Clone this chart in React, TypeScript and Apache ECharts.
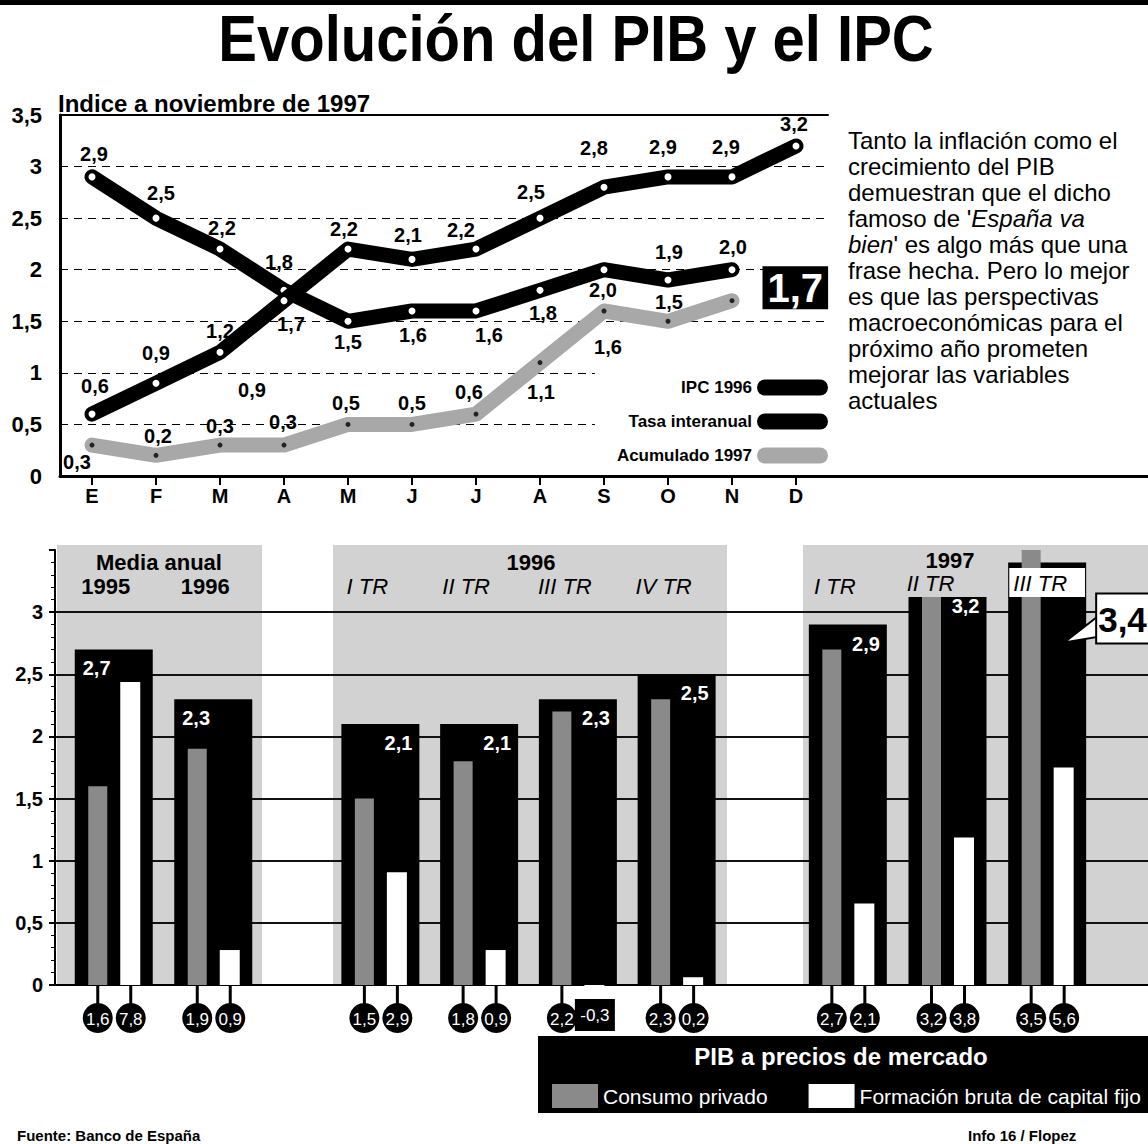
import React, { useEffect, useRef } from 'react';
import * as echarts from 'echarts';

const FONT = "'Liberation Sans', Arial, Helvetica, sans-serif";

// ---------- Top chart data ----------
const months = ['E', 'F', 'M', 'A', 'M', 'J', 'J', 'A', 'S', 'O', 'N', 'D'];
const ipc1996 = [0.6, 0.9, 1.2, 1.7, 2.2, 2.1, 2.2, 2.5, 2.8, 2.9, 2.9, 3.2];
const tasaInteranual = [2.9, 2.5, 2.2, 1.8, 1.5, 1.6, 1.6, 1.8, 2.0, 1.9, 2.0];
const acumulado1997 = [0.3, 0.2, 0.3, 0.3, 0.5, 0.5, 0.6, 1.1, 1.6, 1.5, 1.7];
const lineNames = ['IPC 1996', 'Tasa interanual', 'Acumulado 1997'];

// label offsets (style only)
const ipcLabelOffsets = [[3, -28], [0, -30], [0, -21], [7, 23], [-4, -20], [-4, -24], [-15, -19], [-9, -26], [-10, -39], [-5, -30], [-6, -30], [-2, -22]];
const tasaLabelOffsets = [[2, -23], [5, -25], [2, -21], [-5, -28], [0, 21], [1, 24], [13, 24], [3, 23], [-1, 20], [1, -28], [1, -23]];
const acumLabelOffsets = [[-15, 17], [2, -19], [0, -19], [-1, -23], [-2, -21], [0, -21], [-7, -22], [1, 29], [4, 36], [1, -19], null];

// ---------- Bottom chart data ----------
const groupTitles = ['Media anual', '1996', '1997'];
const mediaCats = ['1995', '1996'];
const tr96Cats = ['I TR', 'II TR', 'III TR', 'IV TR'];
const tr97Cats = ['I TR', 'II TR', 'III TR'];
const pibMedia = [2.7, 2.3];
const pib96 = [2.1, 2.1, 2.3, 2.5];
const pib97 = [2.9, 3.2, 3.4];
const consumoMedia = [1.6, 1.9];
const consumo96 = [1.5, 1.8, 2.2, 2.3];
const consumo97 = [2.7, 3.2, 3.5];
const fbcfMedia = [7.8, 0.9];
const fbcf96 = [2.9, 0.9, -0.3, 0.2];
const fbcf97 = [2.1, 3.8, 5.6];
const FBCF_AXIS_MAX = 11.2;

const paragraph = [
  'Tanto la inflación como el',
  'crecimiento del PIB',
  'demuestran que el dicho',
  "famoso de '{i|España va}",
  "{i|bien}' es algo más que una",
  'frase hecha. Pero lo mejor',
  'es que las perspectivas',
  'macroeconómicas para el',
  'próximo año prometen',
  'mejorar las variables',
  'actuales',
];

const fmt = (v: number) => v.toFixed(1).replace('.', ',');
const axisFmt = (v: number) => String(v).replace('.', ',');

function lineSeries(name: string, values: number[], offsets: any[], lineColor: string, dotColor: string, dotSize: number, z: number) {
  return {
    type: 'line',
    name,
    xAxisIndex: 0,
    yAxisIndex: 0,
    z,
    symbol: 'circle',
    symbolSize: dotSize,
    lineStyle: { color: lineColor, width: 15, cap: 'round', join: 'round' },
    itemStyle: { color: dotColor, borderWidth: 0 },
    emphasis: { disabled: true },
    label: {
      show: true,
      position: 'inside',
      color: '#000',
      fontSize: 20,
      fontWeight: 'bold',
      fontFamily: FONT,
      formatter: (p: any) => fmt(p.value),
    },
    data: values.map((v, i) =>
      offsets[i]
        ? { value: v, label: { offset: offsets[i] } }
        : {
            value: v,
            label: {
              position: 'right',
              distance: 28,
              offset: [0, -13],
              backgroundColor: '#000',
              color: '#fff',
              fontSize: 40,
              fontWeight: 'bold',
              padding: [2, 5, 0, 5],
              lineHeight: 41,
            },
          }
    ),
  };
}

function groupSeries(k: number, pib: number[], consumo: number[], fbcf: number[]) {
  const xAxisIndex = 3 + k;
  const yMain = 2 + 2 * k;
  const yF = 3 + 2 * k;
  const BW = 78;
  const GOFF = -16;
  const WOFF = 17;
  const NW = 19;
  const pibS = {
    type: 'custom',
    name: 'PIB a precios de mercado',
    xAxisIndex,
    yAxisIndex: yMain,
    z: 3,
    itemStyle: { color: '#000' },
    data: pib.map((v, i) => [i, v]),
    renderItem: (params: any, api: any) => {
      const i = api.value(0);
      const v = api.value(1);
      const base = api.coord([i, 0]);
      const top = api.coord([i, v]);
      const left = base[0] - BW / 2;
      const right = base[0] + BW / 2;
      const children: any[] = [
        { type: 'rect', shape: { x: left, y: top[1], width: BW, height: base[1] - top[1] }, style: { fill: '#000' } },
      ];
      const isCallout = k === 2 && i === pib.length - 1;
      if (isCallout) {
        children.push({
          type: 'polygon',
          z2: 10,
          shape: { points: [[right - 22, top[1] + 80], [right + 14, top[1] + 52], [right + 14, top[1] + 74]] },
          style: { fill: '#fff', stroke: '#000', lineWidth: 2 },
        });
        children.push({
          type: 'rect',
          z2: 11,
          shape: { x: right + 10, y: top[1] + 31, width: 70, height: 50 },
          style: { fill: '#fff', stroke: '#000', lineWidth: 2 },
        });
        children.push({
          type: 'text',
          z2: 12,
          x: right + 12,
          y: top[1] + 57,
          style: { text: fmt(v), fill: '#000', fontSize: 35, fontWeight: 'bold', fontFamily: FONT, align: 'left', verticalAlign: 'middle' },
        });
      } else {
        children.push({
          type: 'text',
          z2: 5,
          x: k === 0 ? left + 8 : right - 7,
          y: top[1] + 19,
          style: {
            text: fmt(v),
            fill: '#fff',
            fontSize: 20,
            fontWeight: 'bold',
            fontFamily: FONT,
            align: k === 0 ? 'left' : 'right',
            verticalAlign: 'middle',
          },
        });
      }
      return { type: 'group', children };
    },
  };
  const consumoS = {
    type: 'custom',
    name: 'Consumo privado',
    xAxisIndex,
    yAxisIndex: yMain,
    z: 4,
    itemStyle: { color: '#8a8a8a' },
    data: consumo.map((v, i) => [i, v]),
    renderItem: (params: any, api: any) => {
      const i = api.value(0);
      const v = api.value(1);
      const base = api.coord([i, 0]);
      const top = api.coord([i, v]);
      const cx = base[0] + GOFF;
      return {
        type: 'group',
        children: [
          { type: 'rect', shape: { x: cx - NW / 2, y: top[1], width: NW, height: base[1] - top[1] }, style: { fill: '#8a8a8a' } },
          { type: 'line', shape: { x1: cx, y1: base[1], x2: cx, y2: base[1] + 20 }, style: { stroke: '#000', lineWidth: 3 } },
          { type: 'circle', shape: { cx, cy: base[1] + 33, r: 15 }, style: { fill: '#000' } },
          {
            type: 'text',
            x: cx,
            y: base[1] + 34,
            style: { text: fmt(v), fill: '#fff', fontSize: 17, fontFamily: FONT, align: 'center', verticalAlign: 'middle' },
          },
        ],
      };
    },
  };
  const fbcfS = {
    type: 'custom',
    name: 'Formación bruta de capital fijo',
    xAxisIndex,
    yAxisIndex: yF,
    z: 4,
    itemStyle: { color: '#fff' },
    data: fbcf.map((v, i) => [i, v]),
    renderItem: (params: any, api: any) => {
      const i = api.value(0);
      const v = api.value(1);
      const base = api.coord([i, 0]);
      const top = api.coord([i, v]);
      const cx = base[0] + WOFF;
      const y0 = Math.min(base[1], top[1]);
      const h = Math.abs(base[1] - top[1]);
      const children: any[] = [
        { type: 'rect', shape: { x: cx - NW / 2 - 1, y: y0, width: NW + 1, height: h }, style: { fill: '#fff' } },
      ];
      if (v < 0) {
        children.push({ type: 'rect', shape: { x: cx - 20, y: base[1] + 14, width: 40, height: 32 }, style: { fill: '#000' } });
      } else {
        children.push({ type: 'line', shape: { x1: cx, y1: base[1], x2: cx, y2: base[1] + 20 }, style: { stroke: '#000', lineWidth: 3 } });
        children.push({ type: 'circle', shape: { cx, cy: base[1] + 33, r: 15 }, style: { fill: '#000' } });
      }
      children.push({
        type: 'text',
        x: cx,
        y: v < 0 ? base[1] + 30 : base[1] + 34,
        style: { text: fmt(v), fill: '#fff', fontSize: 17, fontFamily: FONT, align: 'center', verticalAlign: 'middle' },
      });
      return { type: 'group', children };
    },
  };
  return [pibS, consumoS, fbcfS];
}

function groupXAxis(k: number, cats: any[]) {
  return {
    type: 'category',
    gridIndex: 2 + k,
    data: cats,
    position: 'top',
    offset: -47,
    z: 6,
    axisLine: { show: false },
    axisTick: { show: false },
    axisLabel: {
      margin: 0,
      color: '#000',
      fontSize: 22,
      fontFamily: FONT,
      fontWeight: k === 0 ? 'bold' : 'normal',
      fontStyle: k === 0 ? 'normal' : 'italic',
      padding: [0, k === 0 ? 16 : 26, 0, 0],
    },
  };
}

export default function App() {
  const ref = useRef<HTMLDivElement>(null);
  useEffect(() => {
    if (!ref.current) return;
    const chart = echarts.init(ref.current, null, { renderer: 'svg' });

    const groupGrid = (left: number, width: number) => ({ left, width, top: 550, bottom: 159 });
    const hiddenY = (k: number, max: number) => ({ type: 'value', gridIndex: 2 + k, min: 0, max, show: false });

    const cats97 = tr97Cats.map((c, i) => {
      if (i === tr97Cats.length - 1) return { value: c, textStyle: { backgroundColor: '#fff', padding: [4, 18, 3, 4] } };
      if (i === 1) return { value: c, textStyle: { backgroundColor: '#d2d2d2', padding: [3, 34, 3, 0] } };
      return c;
    });

    const pill = 'path://M8,0L63,0A8,8,0,0,1,63,16L8,16A8,8,0,0,1,8,0Z';

    const option: any = {
      animation: false,
      backgroundColor: '#fff',
      textStyle: { fontFamily: FONT },
      grid: [
        { left: 60, right: 320, top: 115, bottom: 668 },
        { left: 55, right: 0, top: 550, bottom: 159 },
        groupGrid(64, 199),
        groupGrid(331, 395),
        groupGrid(798, 299),
      ],
      xAxis: [
        {
          type: 'category',
          gridIndex: 0,
          data: months,
          boundaryGap: true,
          axisLine: { lineStyle: { color: '#000', width: 3 } },
          axisTick: { show: true, alignWithLabel: true, length: 9, lineStyle: { color: '#000', width: 2 } },
          axisLabel: { color: '#000', fontSize: 20, fontWeight: 'bold', margin: 10, fontFamily: FONT },
        },
        {
          type: 'category',
          gridIndex: 0,
          data: months,
          position: 'top',
          axisLine: { lineStyle: { color: '#000', width: 2 } },
          axisTick: { show: false },
          axisLabel: { show: false },
        },
        {
          type: 'value',
          gridIndex: 1,
          min: 0,
          max: 1,
          axisLine: { show: true, onZero: false, lineStyle: { color: '#000', width: 2 } },
          axisTick: { show: false },
          axisLabel: { show: false },
          splitLine: { show: false },
        },
        groupXAxis(0, mediaCats),
        groupXAxis(1, tr96Cats),
        groupXAxis(2, cats97),
      ],
      yAxis: [
        {
          type: 'value',
          gridIndex: 0,
          min: 0,
          max: 3.5,
          interval: 0.5,
          axisLine: { show: true, lineStyle: { color: '#000', width: 3 } },
          axisTick: { show: false },
          axisLabel: { color: '#000', fontSize: 22, fontWeight: 'bold', margin: 18, fontFamily: FONT, formatter: axisFmt },
          splitLine: { show: true, showMaxLine: false, lineStyle: { color: '#000', width: 1, type: [8, 6] } },
        },
        {
          type: 'value',
          gridIndex: 1,
          min: 0,
          max: 3.5,
          interval: 0.5,
          axisLine: { show: true, lineStyle: { color: '#000', width: 2 } },
          axisTick: { show: true, length: 6, lineStyle: { color: '#000', width: 2 } },
          minorTick: { show: true, splitNumber: 5, length: 4, lineStyle: { color: '#000', width: 1 } },
          axisLabel: { color: '#000', fontSize: 20, fontWeight: 'bold', margin: 12, fontFamily: FONT, formatter: axisFmt, showMaxLabel: false },
          splitLine: { show: true, showMaxLine: false, lineStyle: { color: '#111', width: 2 } },
        },
        hiddenY(0, 3.5),
        hiddenY(0, FBCF_AXIS_MAX),
        hiddenY(1, 3.5),
        hiddenY(1, FBCF_AXIS_MAX),
        hiddenY(2, 3.5),
        hiddenY(2, FBCF_AXIS_MAX),
      ],
      legend: [
        {
          data: [
            { name: lineNames[0], itemStyle: { color: '#000' } },
            { name: lineNames[1], itemStyle: { color: '#000' } },
            { name: lineNames[2], itemStyle: { color: '#a8a8a8' } },
          ],
          orient: 'vertical',
          right: 320,
          top: 373,
          align: 'right',
          icon: pill,
          itemWidth: 71,
          itemHeight: 16,
          itemGap: 17,
          selectedMode: false,
          backgroundColor: '#fff',
          padding: [6, 0, 6, 22],
          textStyle: { color: '#000', fontSize: 17, fontWeight: 'bold', fontFamily: FONT },
        },
        {
          data: ['Consumo privado', 'Formación bruta de capital fijo'],
          left: 552,
          top: 1084,
          icon: 'rect',
          itemWidth: 46,
          itemHeight: 24,
          itemGap: 41,
          selectedMode: false,
          padding: 0,
          textStyle: { color: '#fff', fontSize: 21, fontFamily: FONT },
        },
      ],
      series: [
        lineSeries(lineNames[2], acumulado1997, acumLabelOffsets, '#a8a8a8', '#222', 5, 2),
        lineSeries(lineNames[1], tasaInteranual, tasaLabelOffsets, '#000', '#fff', 7, 3),
        lineSeries(lineNames[0], ipc1996, ipcLabelOffsets, '#000', '#fff', 7, 4),
        ...groupSeries(0, pibMedia, consumoMedia, fbcfMedia),
        ...groupSeries(1, pib96, consumo96, fbcf96),
        ...groupSeries(2, pib97, consumo97, fbcf97),
      ],
      graphic: {
        elements: [
          { type: 'rect', z: -10, shape: { x: 0, y: 0, width: 1148, height: 5 }, style: { fill: '#000' } },
          {
            type: 'text',
            x: 576,
            y: 44,
            scaleY: 1.13,
            originX: 576,
            originY: 44,
            style: { text: 'Evolución del PIB y el IPC', fill: '#000', fontSize: 58, fontWeight: 'bold', fontFamily: FONT, align: 'center', verticalAlign: 'middle' },
          },
          {
            type: 'text',
            x: 58,
            y: 103,
            style: { text: 'Indice a noviembre de 1997', fill: '#000', fontSize: 24, fontWeight: 'bold', fontFamily: FONT, align: 'left', verticalAlign: 'middle' },
          },
          {
            type: 'text',
            x: 252,
            y: 390,
            style: { text: '0,9', fill: '#000', fontSize: 20, fontWeight: 'bold', fontFamily: FONT, align: 'center', verticalAlign: 'middle' },
          },
          {
            type: 'text',
            x: 848,
            y: 127,
            style: {
              text: paragraph.join('\n'),
              fill: '#000',
              fontSize: 24,
              fontFamily: FONT,
              lineHeight: 26,
              align: 'left',
              verticalAlign: 'top',
              rich: { i: { fontStyle: 'italic', fontSize: 24, lineHeight: 26, fontFamily: FONT, fill: '#000' } },
            },
          },
          { type: 'line', shape: { x1: 828, y1: 476.5, x2: 1148, y2: 476.5 }, style: { stroke: '#000', lineWidth: 3 } },
          // bands behind the bar chart
          { type: 'rect', z: -10, shape: { x: 57, y: 545, width: 205, height: 440 }, style: { fill: '#d2d2d2' } },
          { type: 'rect', z: -10, shape: { x: 333, y: 545, width: 394, height: 440 }, style: { fill: '#d2d2d2' } },
          { type: 'rect', z: -10, shape: { x: 803, y: 545, width: 345, height: 440 }, style: { fill: '#d2d2d2' } },
          {
            type: 'text',
            x: 159,
            y: 562,
            style: { text: groupTitles[0], fill: '#000', fontSize: 22, fontWeight: 'bold', fontFamily: FONT, align: 'center', verticalAlign: 'middle' },
          },
          {
            type: 'text',
            x: 531,
            y: 562,
            style: { text: groupTitles[1], fill: '#000', fontSize: 22, fontWeight: 'bold', fontFamily: FONT, align: 'center', verticalAlign: 'middle' },
          },
          {
            type: 'text',
            x: 950,
            y: 560,
            style: { text: groupTitles[2], fill: '#000', fontSize: 22, fontWeight: 'bold', fontFamily: FONT, align: 'center', verticalAlign: 'middle' },
          },
          { type: 'rect', shape: { x: 538, y: 1036, width: 610, height: 77 }, style: { fill: '#000' } },
          {
            type: 'text',
            x: 841,
            y: 1056,
            style: { text: 'PIB a precios de mercado', fill: '#fff', fontSize: 24, fontWeight: 'bold', fontFamily: FONT, align: 'center', verticalAlign: 'middle' },
          },
          {
            type: 'text',
            x: 17,
            y: 1135,
            style: { text: 'Fuente: Banco de España', fill: '#000', fontSize: 15, fontWeight: 'bold', fontFamily: FONT, align: 'left', verticalAlign: 'middle' },
          },
          {
            type: 'text',
            x: 968,
            y: 1135,
            style: { text: 'Info 16 / Flopez', fill: '#000', fontSize: 15, fontWeight: 'bold', fontFamily: FONT, align: 'left', verticalAlign: 'middle' },
          },
        ],
      },
    };
    chart.setOption(option);
    return () => chart.dispose();
  }, []);
  return <div ref={ref} style={{ position: 'absolute', left: 0, top: 0, width: 1148, height: 1144 }} />;
}
